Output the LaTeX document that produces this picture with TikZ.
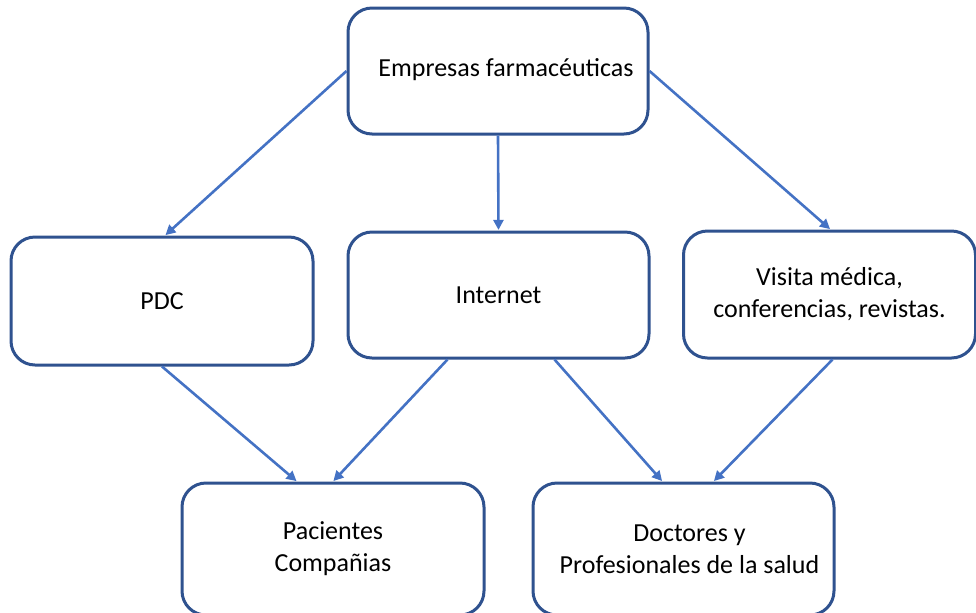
\documentclass[tikz,border=0pt]{standalone}
\usepackage{fontspec}
\setmainfont{Carlito}
\usetikzlibrary{arrows.meta,calc}
\definecolor{boxline}{HTML}{2F528F}
\definecolor{arrline}{HTML}{4472C4}
\tikzset{
  box/.style={draw=boxline, line width=1.5pt, rounded corners=12pt, fill=white,
    align=center, inner sep=0pt, font=\fontsize{13}{16}\selectfont},
  arr/.style={draw=arrline, line width=1.3pt, -{Triangle[length=5pt,width=5pt]}, shorten >=0.3pt}
}
\begin{document}
\begin{tikzpicture}[x=0.5pt,y=-0.5pt]
\useasboundingbox (0,0) rectangle (976,612);
\node[box, minimum width=150pt, minimum height=63pt] (top) at (498,71) {\hspace*{8pt}\raisebox{3.5pt}{Empresas farmacéuticas}};
\node[box, minimum width=151pt, minimum height=64pt] (pdc) at (162,301) {PDC};
\node[box, minimum width=150.5pt, minimum height=63pt] (int) at (498.5,295) {Internet};
\node[box, minimum width=146pt, minimum height=63.5pt] (vis) at (829.5,294.5) {Visita médica,\\conferencias, revistas.};
\node[box, minimum width=151pt, minimum height=66pt] (pac) at (333,549) {Pacientes\\Compañias};
\node[box, minimum width=150.5pt, minimum height=66pt] (doc) at (683.5,549) {\hspace*{6pt}Doctores y\\\hspace*{6pt}Profesionales de la salud};
\draw[arr] (top.west) -- ($(pdc.north)+(3,0)$);
\draw[arr] (top.south) -- (int.north);
\draw[arr] (top.east) -- ($(vis.north)+(1,0)$);
\draw[arr] (pdc.south) -- ($(pac.north)+(-36,0)$);
\draw[arr] ($(int.south)+(-51,0)$) -- (pac.north);
\draw[arr] ($(int.south)+(56,0)$) -- ($(doc.north)+(-21,0)$);
\draw[arr] ($(vis.south)+(3,0)$) -- ($(doc.north)+(30,0)$);
\end{tikzpicture}
\end{document}
